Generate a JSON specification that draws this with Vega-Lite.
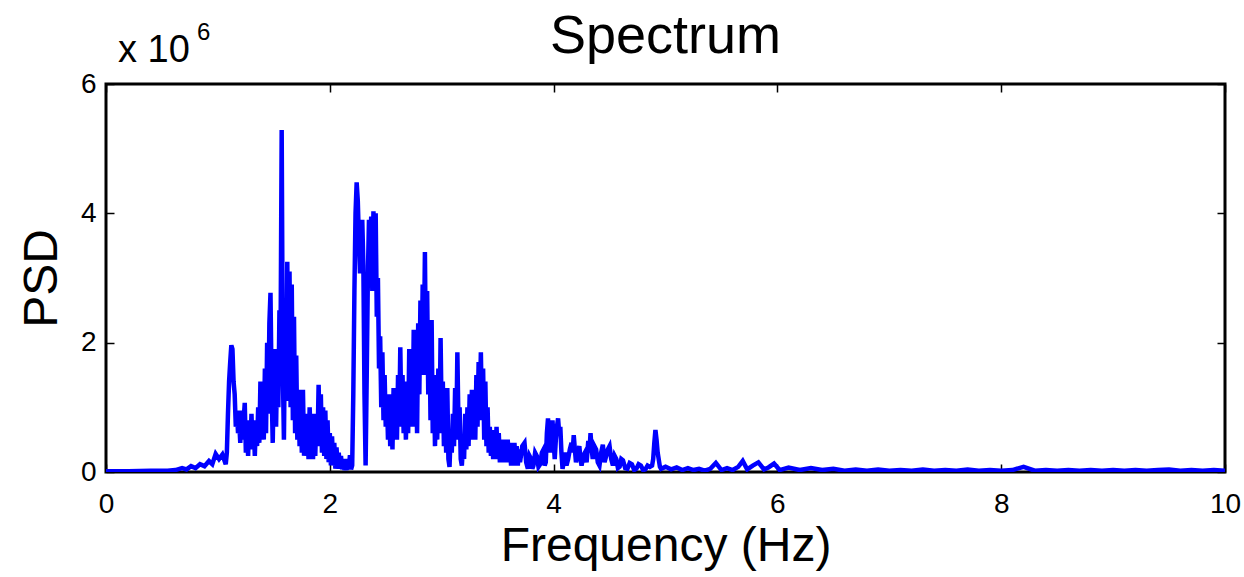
{
  "$schema": "https://vega.github.io/schema/vega-lite/v6.json",
  "autosize": {"type": "none"},
  "padding": {"left": 106, "top": 84, "right": 19, "bottom": 105},
  "width": 1119,
  "height": 388,
  "background": "white",
  "config": {
    "view": {"stroke": "black", "strokeWidth": 3},
    "font": "Liberation Sans",
    "axis": {"grid": false, "domain": false, "labelFont": "Liberation Sans", "titleFont": "Liberation Sans", "labelColor": "black", "titleColor": "black", "tickColor": "black", "tickWidth": 1.5, "titleFontWeight": "normal"}
  },
  "title": {"text": "Spectrum", "fontSize": 54, "fontWeight": "normal", "font": "Liberation Sans", "color": "black", "anchor": "middle", "frame": "group", "baseline": "alphabetic", "offset": -86},
  "datasets": {
    "spectrum": [
      {"f":0,"p":0.01},{"f":0.2,"p":0.01},{"f":0.4,"p":0.02},{"f":0.55,"p":0.02},{"f":0.62,"p":0.03},{"f":0.68,"p":0.06},{"f":0.72,"p":0.04},{"f":0.76,"p":0.09},{"f":0.8,"p":0.06},{"f":0.84,"p":0.12},{"f":0.88,"p":0.09},{"f":0.92,"p":0.17},{"f":0.95,"p":0.12},{"f":0.98,"p":0.28},{"f":1.01,"p":0.2},{"f":1.04,"p":0.27},{"f":1.07,"p":0.12},
      {"f":1.08,"p":0.3},{"f":1.09,"p":0.9},{"f":1.10,"p":1.4},{"f":1.11,"p":1.7},{"f":1.12,"p":1.96},{"f":1.13,"p":1.9},{"f":1.14,"p":1.4},{"f":1.15,"p":1.2},{"f":1.16,"p":0.7},{"f":1.17,"p":0.95},{"f":1.18,"p":0.6},{"f":1.19,"p":0.8},{"f":1.20,"p":0.45},{"f":1.21,"p":0.95},{"f":1.22,"p":0.5},{"f":1.23,"p":0.8},{"f":1.24,"p":1.07},{"f":1.25,"p":0.3},{"f":1.26,"p":0.7},{"f":1.27,"p":0.25},{"f":1.28,"p":0.8},{"f":1.29,"p":0.4},{"f":1.30,"p":0.9},{"f":1.31,"p":0.35},{"f":1.32,"p":0.7},{"f":1.33,"p":0.25},{"f":1.34,"p":0.8},{"f":1.35,"p":0.4},{"f":1.36,"p":1.0},{"f":1.37,"p":0.45},{"f":1.38,"p":1.4},{"f":1.39,"p":0.6},{"f":1.40,"p":1.2},{"f":1.41,"p":0.5},{"f":1.42,"p":1.6},{"f":1.43,"p":0.6},{"f":1.44,"p":2.0},{"f":1.45,"p":0.9},{"f":1.46,"p":2.3},{"f":1.47,"p":2.77},{"f":1.48,"p":1.3},{"f":1.49,"p":0.45},{"f":1.50,"p":1.5},{"f":1.51,"p":1.9},{"f":1.52,"p":0.7},{"f":1.53,"p":1.8},{"f":1.54,"p":1.0},{"f":1.55,"p":2.5},{"f":1.56,"p":2.0},{"f":1.57,"p":5.29},{"f":1.58,"p":1.6},{"f":1.59,"p":0.5},{"f":1.60,"p":2.2},{"f":1.61,"p":1.1},{"f":1.62,"p":3.25},{"f":1.63,"p":1.3},{"f":1.64,"p":3.1},{"f":1.65,"p":1.0},{"f":1.66,"p":2.9},{"f":1.67,"p":0.8},{"f":1.68,"p":2.4},{"f":1.69,"p":0.6},{"f":1.70,"p":1.8},{"f":1.71,"p":0.5},{"f":1.72,"p":1.27},{"f":1.73,"p":0.4},{"f":1.74,"p":1.2},{"f":1.75,"p":0.3},{"f":1.76,"p":1.27},{"f":1.77,"p":0.25},{"f":1.78,"p":0.9},{"f":1.79,"p":0.3},{"f":1.80,"p":0.8},{"f":1.81,"p":0.2},{"f":1.82,"p":1.0},{"f":1.83,"p":0.4},{"f":1.84,"p":0.9},{"f":1.85,"p":0.2},{"f":1.86,"p":0.7},{"f":1.87,"p":0.25},{"f":1.88,"p":0.9},{"f":1.89,"p":0.4},{"f":1.90,"p":1.35},{"f":1.91,"p":0.5},{"f":1.92,"p":1.2},{"f":1.93,"p":0.3},{"f":1.94,"p":1.0},{"f":1.95,"p":0.25},{"f":1.96,"p":0.95},{"f":1.97,"p":0.2},{"f":1.98,"p":0.8},{"f":1.99,"p":0.15},{"f":2.00,"p":0.6},{"f":2.01,"p":0.1},{"f":2.02,"p":0.55},{"f":2.03,"p":0.1},{"f":2.04,"p":0.45},{"f":2.05,"p":0.05},{"f":2.06,"p":0.38},{"f":2.07,"p":0.08},{"f":2.08,"p":0.3},{"f":2.09,"p":0.05},{"f":2.10,"p":0.25},{"f":2.11,"p":0.04},{"f":2.12,"p":0.2},{"f":2.13,"p":0.03},{"f":2.14,"p":0.15},{"f":2.15,"p":0.03},{"f":2.16,"p":0.2},{"f":2.17,"p":0.05},{"f":2.18,"p":0.26},{"f":2.19,"p":0.04},{"f":2.20,"p":0.1},{"f":2.21,"p":1.2},{"f":2.22,"p":2.8},{"f":2.23,"p":4.0},{"f":2.24,"p":4.48},{"f":2.25,"p":4.2},{"f":2.26,"p":3.6},{"f":2.27,"p":3.07},{"f":2.28,"p":3.6},{"f":2.29,"p":3.9},{"f":2.30,"p":3.2},{"f":2.31,"p":1.2},{"f":2.32,"p":0.1},{"f":2.33,"p":1.5},{"f":2.34,"p":3.0},{"f":2.35,"p":3.9},{"f":2.36,"p":3.2},{"f":2.37,"p":3.95},{"f":2.38,"p":2.8},{"f":2.39,"p":4.03},{"f":2.40,"p":3.0},{"f":2.41,"p":4.0},{"f":2.42,"p":2.4},{"f":2.43,"p":3.0},{"f":2.44,"p":1.6},{"f":2.45,"p":2.1},{"f":2.46,"p":1.0},{"f":2.47,"p":1.85},{"f":2.48,"p":0.8},{"f":2.49,"p":1.5},{"f":2.50,"p":0.7},{"f":2.51,"p":1.2},{"f":2.52,"p":0.5},{"f":2.53,"p":1.2},{"f":2.54,"p":0.4},{"f":2.55,"p":1.0},{"f":2.56,"p":0.35},{"f":2.57,"p":1.3},{"f":2.58,"p":0.6},{"f":2.59,"p":1.0},{"f":2.60,"p":0.5},{"f":2.61,"p":1.5},{"f":2.62,"p":0.7},{"f":2.63,"p":1.93},{"f":2.64,"p":0.8},{"f":2.65,"p":1.5},{"f":2.66,"p":0.6},{"f":2.67,"p":1.4},{"f":2.68,"p":0.5},{"f":2.69,"p":1.2},{"f":2.70,"p":0.6},{"f":2.71,"p":1.9},{"f":2.72,"p":0.9},{"f":2.73,"p":1.7},{"f":2.74,"p":0.7},{"f":2.75,"p":2.2},{"f":2.76,"p":1.0},{"f":2.77,"p":1.8},{"f":2.78,"p":0.6},{"f":2.79,"p":2.3},{"f":2.80,"p":1.2},{"f":2.81,"p":2.65},{"f":2.82,"p":1.5},{"f":2.83,"p":2.9},{"f":2.84,"p":1.8},{"f":2.85,"p":3.4},{"f":2.86,"p":1.5},{"f":2.87,"p":2.8},{"f":2.88,"p":1.2},{"f":2.89,"p":2.35},{"f":2.90,"p":0.8},{"f":2.91,"p":2.35},{"f":2.92,"p":0.6},{"f":2.93,"p":1.5},{"f":2.94,"p":0.4},{"f":2.95,"p":1.2},{"f":2.96,"p":0.5},{"f":2.97,"p":1.6},{"f":2.98,"p":0.6},{"f":2.99,"p":2.07},{"f":3.00,"p":0.8},{"f":3.01,"p":1.4},{"f":3.02,"p":0.4},{"f":3.03,"p":1.0},{"f":3.04,"p":0.3},{"f":3.05,"p":1.3},{"f":3.06,"p":0.2},{"f":3.07,"p":0.08},{"f":3.08,"p":0.6},{"f":3.09,"p":0.3},{"f":3.10,"p":0.9},{"f":3.11,"p":0.4},{"f":3.12,"p":1.3},{"f":3.13,"p":0.5},{"f":3.14,"p":1.85},{"f":3.15,"p":0.7},{"f":3.16,"p":1.0},{"f":3.17,"p":0.2},{"f":3.18,"p":0.1},{"f":3.19,"p":0.4},{"f":3.20,"p":0.2},{"f":3.21,"p":0.9},{"f":3.22,"p":0.35},{"f":3.23,"p":1.0},{"f":3.24,"p":0.4},{"f":3.25,"p":1.2},{"f":3.26,"p":0.5},{"f":3.27,"p":1.27},{"f":3.28,"p":0.6},{"f":3.29,"p":1.1},{"f":3.30,"p":0.5},{"f":3.31,"p":1.5},{"f":3.32,"p":0.7},{"f":3.33,"p":1.7},{"f":3.34,"p":1.0},{"f":3.35,"p":1.85},{"f":3.36,"p":0.8},{"f":3.37,"p":1.6},{"f":3.38,"p":0.5},{"f":3.39,"p":1.4},{"f":3.40,"p":0.4},{"f":3.41,"p":1.0},{"f":3.42,"p":0.3},{"f":3.43,"p":0.7},{"f":3.44,"p":0.25},{"f":3.45,"p":0.65},{"f":3.46,"p":0.2},{"f":3.47,"p":0.6},{"f":3.48,"p":0.2},{"f":3.49,"p":0.7},{"f":3.50,"p":0.25},{"f":3.51,"p":0.6},{"f":3.52,"p":0.15},{"f":3.53,"p":0.5},{"f":3.54,"p":0.15},{"f":3.55,"p":0.5},{"f":3.56,"p":0.2},{"f":3.57,"p":0.45},{"f":3.58,"p":0.15},{"f":3.59,"p":0.5},{"f":3.60,"p":0.2},{"f":3.61,"p":0.45},{"f":3.62,"p":0.1},{"f":3.63,"p":0.4},{"f":3.64,"p":0.1},{"f":3.65,"p":0.45},{"f":3.66,"p":0.15},{"f":3.67,"p":0.4},{"f":3.68,"p":0.1},{"f":3.69,"p":0.35},{"f":3.70,"p":0.15},
      {"f":3.72,"p":0.4},{"f":3.74,"p":0.45},{"f":3.755,"p":0.15},{"f":3.77,"p":0.05},{"f":3.785,"p":0.25},{"f":3.8,"p":0.2},{"f":3.81,"p":0.05},{"f":3.82,"p":0.1},{"f":3.835,"p":0.3},{"f":3.85,"p":0.25},{"f":3.865,"p":0.08},{"f":3.88,"p":0.12},{"f":3.895,"p":0.3},{"f":3.91,"p":0.35},{"f":3.92,"p":0.1},{"f":3.93,"p":0.15},{"f":3.94,"p":0.6},{"f":3.95,"p":0.83},{"f":3.96,"p":0.5},{"f":3.97,"p":0.3},{"f":3.98,"p":0.6},{"f":3.99,"p":0.8},{"f":4.0,"p":0.5},{"f":4.01,"p":0.2},{"f":4.02,"p":0.5},{"f":4.03,"p":0.7},{"f":4.04,"p":0.83},{"f":4.05,"p":0.6},{"f":4.06,"p":0.7},{"f":4.07,"p":0.3},{"f":4.08,"p":0.05},{"f":4.09,"p":0.15},{"f":4.1,"p":0.3},{"f":4.115,"p":0.1},{"f":4.13,"p":0.2},{"f":4.145,"p":0.35},{"f":4.16,"p":0.45},{"f":4.17,"p":0.3},{"f":4.18,"p":0.57},{"f":4.19,"p":0.35},{"f":4.2,"p":0.15},{"f":4.215,"p":0.3},{"f":4.23,"p":0.4},{"f":4.24,"p":0.2},{"f":4.25,"p":0.1},{"f":4.265,"p":0.25},{"f":4.28,"p":0.3},{"f":4.295,"p":0.15},{"f":4.31,"p":0.48},{"f":4.32,"p":0.3},{"f":4.33,"p":0.6},{"f":4.34,"p":0.35},{"f":4.35,"p":0.2},{"f":4.365,"p":0.4},{"f":4.38,"p":0.35},{"f":4.395,"p":0.15},{"f":4.41,"p":0.1},{"f":4.425,"p":0.3},{"f":4.44,"p":0.42},{"f":4.455,"p":0.15},{"f":4.47,"p":0.25},{"f":4.485,"p":0.35},{"f":4.5,"p":0.4},{"f":4.515,"p":0.2},{"f":4.53,"p":0.1},{"f":4.545,"p":0.25},{"f":4.56,"p":0.2},{"f":4.575,"p":0.06},{"f":4.59,"p":0.08},{"f":4.605,"p":0.2},{"f":4.62,"p":0.18},{"f":4.64,"p":0.06},{"f":4.66,"p":0.05},{"f":4.68,"p":0.14},{"f":4.7,"p":0.12},{"f":4.72,"p":0.03},{"f":4.74,"p":0.05},{"f":4.76,"p":0.12},{"f":4.78,"p":0.1},{"f":4.8,"p":0.03},{"f":4.82,"p":0.04},{"f":4.84,"p":0.1},{"f":4.86,"p":0.08},{"f":4.88,"p":0.1},{"f":4.89,"p":0.2},{"f":4.9,"p":0.45},{"f":4.91,"p":0.65},{"f":4.92,"p":0.5},{"f":4.93,"p":0.3},{"f":4.95,"p":0.08},{"f":4.96,"p":0.05},
      {"f":5.0,"p":0.08},{"f":5.05,"p":0.04},{"f":5.1,"p":0.07},{"f":5.15,"p":0.03},{"f":5.2,"p":0.06},{"f":5.25,"p":0.03},{"f":5.3,"p":0.05},{"f":5.35,"p":0.02},{"f":5.4,"p":0.05},{"f":5.45,"p":0.14},{"f":5.5,"p":0.03},{"f":5.55,"p":0.06},{"f":5.6,"p":0.03},{"f":5.65,"p":0.08},{"f":5.69,"p":0.17},{"f":5.73,"p":0.04},{"f":5.78,"p":0.1},{"f":5.83,"p":0.15},{"f":5.88,"p":0.04},{"f":5.92,"p":0.07},{"f":5.97,"p":0.13},{"f":6.02,"p":0.03},{"f":6.1,"p":0.07},{"f":6.2,"p":0.03},{"f":6.3,"p":0.06},{"f":6.4,"p":0.03},{"f":6.5,"p":0.05},{"f":6.6,"p":0.02},{"f":6.7,"p":0.04},{"f":6.8,"p":0.02},{"f":6.9,"p":0.04},{"f":7.0,"p":0.02},{"f":7.1,"p":0.03},{"f":7.2,"p":0.02},{"f":7.3,"p":0.04},{"f":7.4,"p":0.02},{"f":7.5,"p":0.03},{"f":7.6,"p":0.02},{"f":7.7,"p":0.04},{"f":7.8,"p":0.02},{"f":7.9,"p":0.03},{"f":8.0,"p":0.02},{"f":8.1,"p":0.03},{"f":8.2,"p":0.08},{"f":8.3,"p":0.02},{"f":8.4,"p":0.03},{"f":8.5,"p":0.02},{"f":8.6,"p":0.03},{"f":8.7,"p":0.02},{"f":8.8,"p":0.03},{"f":8.9,"p":0.02},{"f":9.0,"p":0.03},{"f":9.1,"p":0.02},{"f":9.2,"p":0.03},{"f":9.3,"p":0.02},{"f":9.4,"p":0.03},{"f":9.5,"p":0.04},{"f":9.6,"p":0.02},{"f":9.7,"p":0.03},{"f":9.8,"p":0.02},{"f":9.9,"p":0.03},{"f":10.0,"p":0.02}
    ],
    "label": [{"text": "x 10", "exp": "6"}]
  },
  "layer": [
    {
      "data": {"name": "spectrum"},
      "mark": {"type": "line", "color": "#0000ff", "strokeWidth": 4.5, "strokeJoin": "miter", "clip": true},
      "encoding": {
        "x": {"field": "f", "type": "quantitative", "scale": {"domain": [0, 10], "nice": false}, "axis": {"orient": "bottom", "title": "Frequency (Hz)", "values": [0, 2, 4, 6, 8, 10], "tickSize": -8, "labelFontSize": 28, "labelPadding": 26, "titleFontSize": 48, "titlePadding": 4, "labelFlush": false}},
        "y": {"field": "p", "type": "quantitative", "scale": {"domain": [0, 6], "nice": false}, "axis": {"orient": "left", "title": "PSD", "values": [0, 2, 4, 6], "tickSize": -8, "labelFontSize": 28, "labelPadding": 18, "titleFontSize": 48, "titlePadding": 14, "labelFlush": false}}
      }
    },
    {
      "data": {"name": "spectrum"},
      "mark": {"type": "line", "strokeOpacity": 0},
      "encoding": {
        "x": {"field": "f", "type": "quantitative", "axis": {"orient": "top", "title": null, "labels": false, "values": [0, 2, 4, 6, 8, 10], "tickSize": -8}},
        "y": {"field": "p", "type": "quantitative", "axis": {"orient": "right", "title": null, "labels": false, "values": [0, 2, 4, 6], "tickSize": -8}}
      }
    },
    {
      "data": {"name": "label"},
      "mark": {"type": "text", "align": "left", "baseline": "alphabetic", "fontSize": 38, "dx": 12, "dy": -22, "color": "black"},
      "encoding": {"x": {"datum": 0, "type": "quantitative", "axis": null}, "y": {"datum": 6, "type": "quantitative", "axis": null}, "text": {"field": "text"}}
    },
    {
      "data": {"name": "label"},
      "mark": {"type": "text", "align": "left", "baseline": "alphabetic", "fontSize": 24, "dx": 91, "dy": -44, "color": "black"},
      "encoding": {"x": {"datum": 0, "type": "quantitative", "axis": null}, "y": {"datum": 6, "type": "quantitative", "axis": null}, "text": {"field": "exp"}}
    }
  ],
  "resolve": {"axis": {"x": "independent", "y": "independent"}}
}
